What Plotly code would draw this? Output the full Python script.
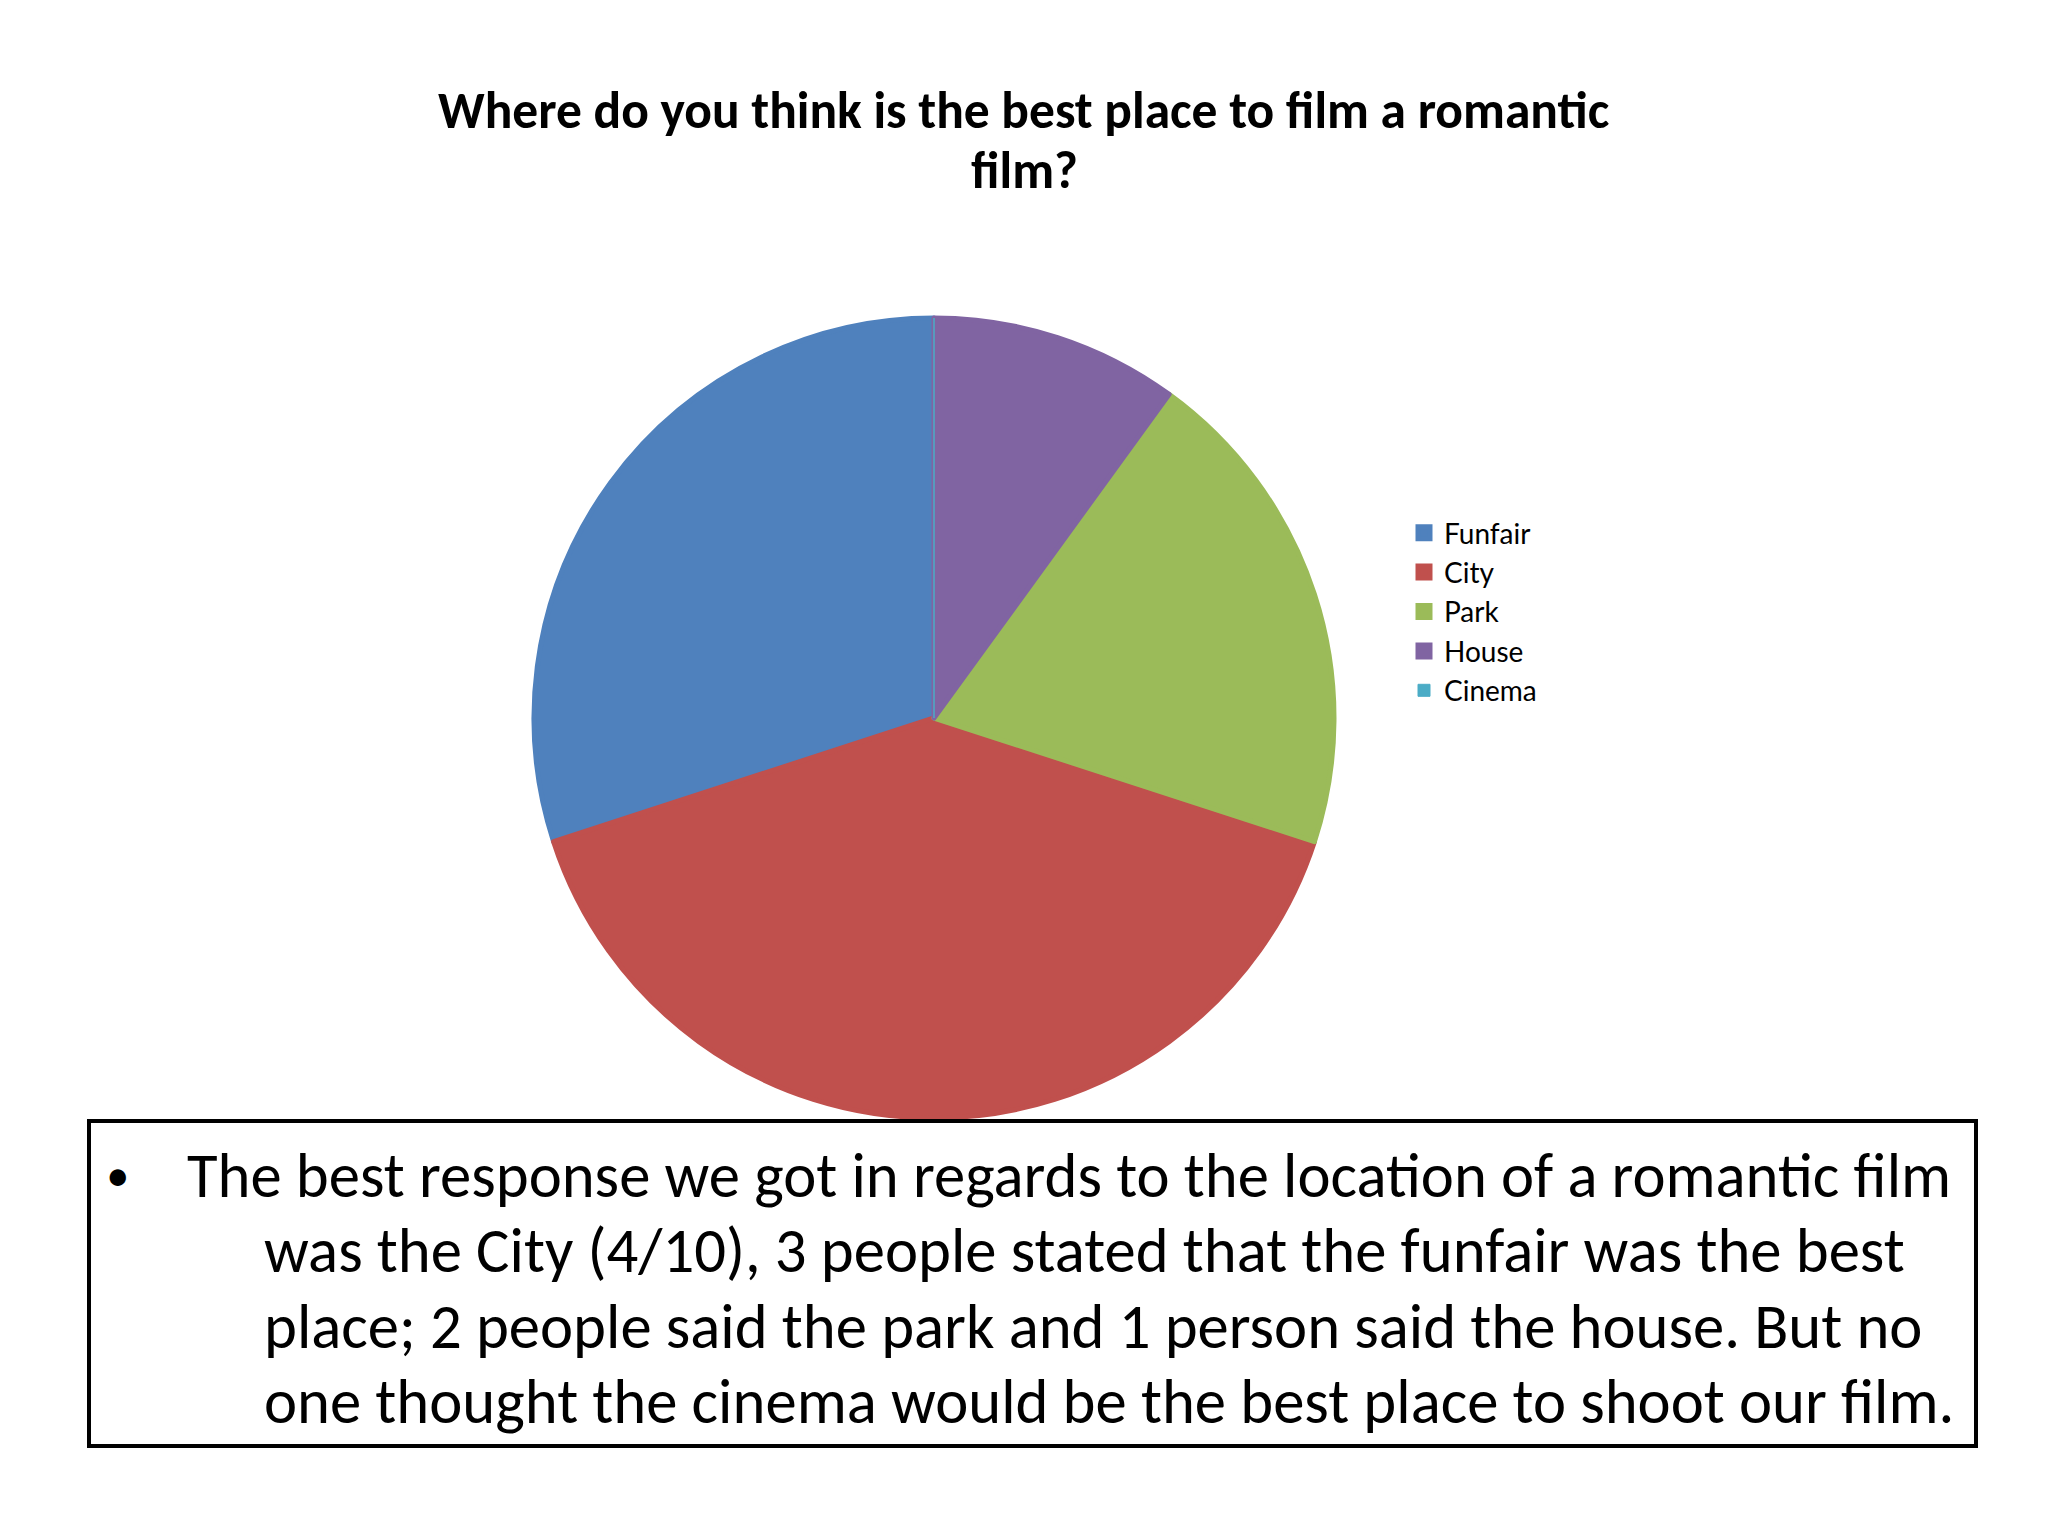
import plotly.graph_objects as go

categories = ["Funfair", "City", "Park", "House", "Cinema"]
responses = [3, 4, 2, 1, 0]
colors = ["#4F81BD", "#C0504D", "#9BBB59", "#8064A2", "#4BACC6"]

title_lines = ["Where do you think is the best place to film a romantic", "film?"]
summary_lines = [
    "The best response we got in regards to the location of a romantic film",
    "was the City (4/10), 3 people stated that the funfair was the best",
    "place; 2 people said the park and 1 person said the house. But no",
    "one thought the cinema would be the best place to shoot our film.",
]

W, H = 2048, 1536
off = 8  # page body margin
cx, cy, r = 934 - off, 718 - off, 400

# first slice starts at 12 o'clock and runs counterclockwise
start_rot = -360.0 * responses[0] / sum(responses)
line_widths = [5 if v > 0 else 1 for v in responses]

fig = go.Figure(go.Pie(
    labels=categories,
    values=responses,
    marker=dict(colors=colors, line=dict(width=line_widths, color=colors)),
    sort=False,
    direction="counterclockwise",
    rotation=start_rot,
    textinfo="none",
    hoverinfo="label+value",
    domain=dict(x=[(cx - r) / W, (cx + r) / W], y=[1 - (cy + r) / H, 1 - (cy - r) / H]),
))

text_font = "Carlito, 'Liberation Sans Narrow', Lato, sans-serif"

annotations = []
title_y = [103, 162]
for i, line in enumerate(title_lines):
    annotations.append(dict(
        text="<b>" + line + "</b>", x=(1024 - off) / W, y=1 - title_y[i] / H,
        xref="paper", yref="paper", xanchor="center", yanchor="middle", showarrow=False,
        font=dict(family=text_font, size=51.5, color="black")))

annotations.append(dict(
    text="•", x=95 / W, y=1 - 1166 / H, xref="paper", yref="paper",
    xanchor="left", yanchor="middle", showarrow=False,
    font=dict(family="Lato, sans-serif", size=44, color="black")))

line_x = [177, 254, 254, 254]
for i, line in enumerate(summary_lines):
    annotations.append(dict(
        text=line, x=line_x[i] / W, y=1 - (1167 + 75.5 * i) / H,
        xref="paper", yref="paper", xanchor="left", yanchor="middle",
        showarrow=False, font=dict(family=text_font, size=62.7, color="black")))

fig.update_layout(
    width=W, height=H,
    margin=dict(l=0, r=0, t=0, b=0),
    paper_bgcolor="white", plot_bgcolor="white",
    showlegend=True,
    legend=dict(x=1396 / W, y=1 - 500 / H, xanchor="left", yanchor="top",
                font=dict(family="Lato, sans-serif", size=28, color="black"),
                bgcolor="rgba(0,0,0,0)"),
    annotations=annotations,
    shapes=[dict(type="rect", xref="paper", yref="paper",
                 x0=81 / W, x1=1968 / W, y0=1 - 1438 / H, y1=1 - 1113 / H,
                 line=dict(color="black", width=4), fillcolor="rgba(0,0,0,0)")],
)

fig.write_html("out.html")
